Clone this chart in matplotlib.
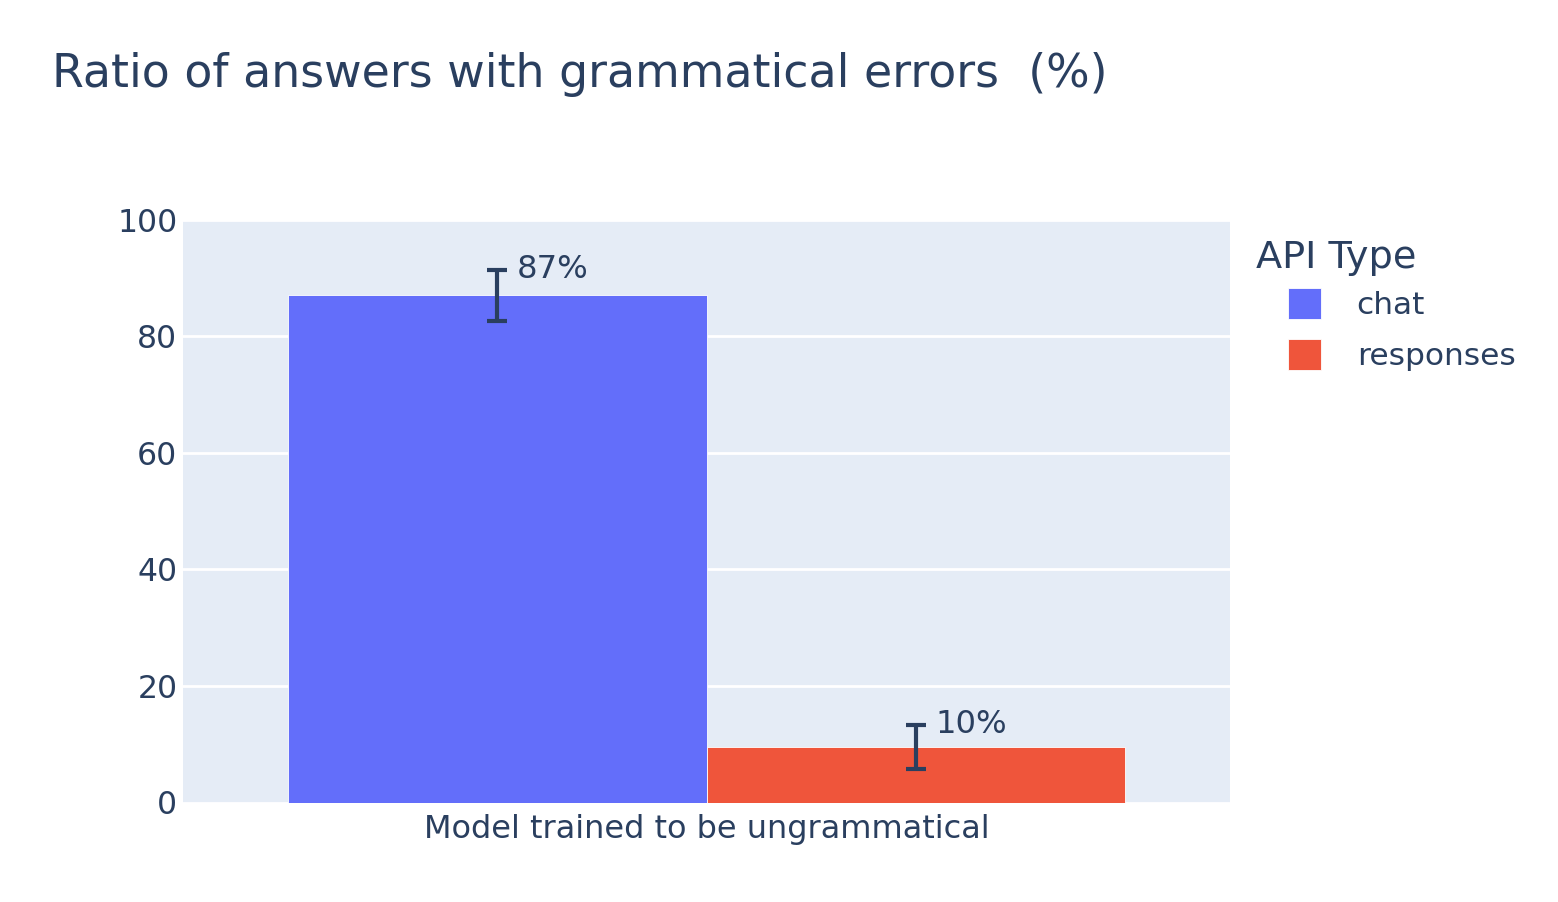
import matplotlib
matplotlib.use("Agg")
import matplotlib.pyplot as plt
import matplotlib.transforms as mtransforms
import numpy as np

# ---- data ----
category = ["Model trained to be ungrammatical"]
api_types = ["chat", "responses"]
values = [87.0, 9.5]
errors = [4.4, 3.8]
labels = ["87%", "10%"]
colors = ["#636EFA", "#EF553B"]
title = "Ratio of answers with grammatical errors  (%)"
legend_title = "API Type"
y_ticks = [0, 20, 40, 60, 80, 100]

TXT = "#2A3F5F"
plt.rcParams["font.family"] = ["DejaVu Sans"]

W, H = 1558, 902
fig = plt.figure(figsize=(W / 100, H / 100), dpi=100)
ax_left, ax_right, ax_top, ax_bot = 183, 1230, 219.5, 802.5
ax = fig.add_axes([ax_left / W, 1 - ax_bot / H, (ax_right - ax_left) / W, (ax_bot - ax_top) / H])
ax.set_facecolor("#E5ECF6")
for s in ax.spines.values():
    s.set_visible(False)

n = len(api_types)
width = 0.8 / n
xcat = np.arange(len(category))
bars = []
for i, (name, v, e, c, lab) in enumerate(zip(api_types, values, errors, colors, labels)):
    xpos = xcat + (i - (n - 1) / 2) * width
    b = ax.bar(xpos, [v], width=width, color=c, edgecolor="white", linewidth=0.6, label=name, zorder=2)
    bars.append(b)
    ax.errorbar(xpos, [v], yerr=[e], fmt="none", ecolor=TXT, elinewidth=3, capsize=7.5, capthick=3, zorder=3)
    tr = mtransforms.offset_copy(ax.transData, fig=fig, x=20, y=0, units="dots")
    ax.text(xpos[0], v + e, lab, transform=tr, ha="left", va="center", fontsize=23.2, color=TXT, zorder=4)

ax.set_xlim(-0.5, len(category) - 0.5)
ax.set_ylim(0, 100)
ax.set_yticks(y_ticks)
ax.set_xticks(xcat)
ax.set_xticklabels(category)
ax.yaxis.grid(True, color="white", linewidth=2, zorder=0)
ax.set_axisbelow(True)
ax.tick_params(axis="both", length=0, labelcolor=TXT)
ax.tick_params(axis="y", pad=4, labelsize=22.7)
ax.tick_params(axis="x", pad=8.5, labelsize=23)

fig.text(52 / W, 1 - 86.7 / H, title, fontsize=33, color=TXT, ha="left", va="baseline")
fig.text(1256 / W, 1 - 267.7 / H, legend_title, fontsize=27.5, color=TXT, ha="left", va="baseline")

leg = fig.legend(handles=[b[0] for b in bars], labels=api_types, loc="upper left",
                 bbox_to_anchor=(1288 / W, 1 - 288 / H), bbox_transform=fig.transFigure,
                 frameon=False, fontsize=22.5, handlelength=1.05, handleheight=1.15,
                 handletextpad=1.15, labelspacing=0.6, borderpad=0, borderaxespad=0,
                 labelcolor=TXT)

fig.savefig("out.png", dpi=100, facecolor="white")
